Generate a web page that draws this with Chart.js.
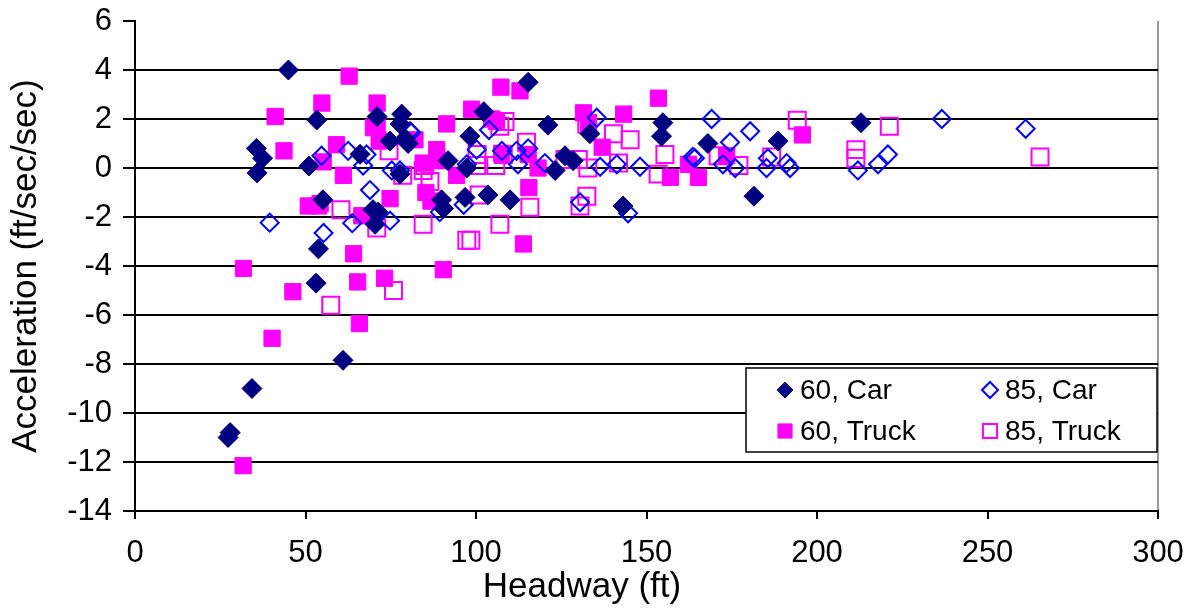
<!DOCTYPE html>
<html>
<head>
<meta charset="utf-8">
<script src="https://cdn.jsdelivr.net/npm/chart.js@4.4.0/dist/chart.umd.min.js"></script>
<style>
  html, body { margin: 0; padding: 0; background: #fff; }
  #wrap { width: 1196px; height: 609px; position: relative; }
</style>
</head>
<body>
<div id="wrap"><canvas id="chart"></canvas></div>
<script>
// headway (ft), acceleration (ft/sec/sec) pairs
const car60 = [
  [27.3,-11.0],[27.9,-10.8],[34.3,-9.0],[61,-7.85],[45,4.0],[35.6,0.8],[37.4,0.4],[35.8,-0.2],
  [53.3,1.96],[51,0.08],[53.8,-3.3],[53.1,-4.7],[55.1,-1.3],[66,0.56],[71,2.1],[70.4,-2.3],
  [69.8,-1.7],[71.3,-1.8],[78.2,2.2],[77.7,1.8],[80.1,1.0],[74.8,1.1],[77.7,-0.25],[91.8,0.3],
  [98.2,1.3],[102.3,2.3],[89.9,-1.3],[90.5,-1.65],[96.8,-1.2],[103.5,-1.1],[110,-1.3],[97.3,0.0],
  [115.3,3.5],[121.1,1.75],[133.4,1.4],[126.1,0.5],[123.2,-0.1],[143.1,-1.55],[154.8,1.85],
  [154.4,1.3],[128.5,0.3],[168,1.0],[188.6,1.1],[181.5,-1.15],[212.9,1.85],[79.2,1.2]
];
const car85 = [
  [39.5,-2.23],[54.7,0.5],[55.3,-2.65],[62.5,0.7],[66.9,0.1],[67.9,0.55],[68.9,-0.9],[63.7,-2.25],
  [77.7,-0.1],[80.6,1.5],[74.8,-2.15],[97.3,0.15],[96.4,-1.5],[89.4,-1.8],[103.8,1.55],[100.2,0.75],
  [111.9,0.7],[135.4,2.05],[115.3,0.8],[112.3,0.15],[120.2,0.2],[136.4,0.05],[141.3,0.15],[148.1,0.05],
  [130.5,-1.4],[144.6,-1.85],[163.6,0.45],[107.6,0.7],[169.1,2.0],[180.4,1.5],[174.5,1.05],[164.2,0.4],
  [172.4,0.15],[176,0.0],[185.2,0.0],[185.6,0.4],[191.1,0.2],[192.1,0.0],[212,-0.1],[217.9,0.15],
  [220.8,0.55],[236.6,2.0],[261.2,1.6],[81,1.45],[75.3,-0.1]
];
const truck60 = [
  [31.8,-4.1],[31.7,-12.15],[40.2,-6.95],[46.3,-5.05],[41.1,2.1],[43.7,0.7],[54.8,2.65],[55.2,0.25],
  [50.8,-1.55],[53.8,-1.55],[54.3,-1.45],[64.1,-3.5],[65.3,-4.65],[73.2,-4.5],[65.8,-6.35],[62.8,3.75],
  [59.1,0.95],[61.1,-0.3],[71,2.65],[69.9,1.65],[71,1.75],[66.5,-1.95],[71.6,1.1],[82.1,1.15],
  [74.8,-1.25],[91.4,1.8],[98.7,2.4],[104.6,2.0],[106,1.9],[107.3,3.3],[88.5,0.75],[89.2,0.3],
  [84.5,0.2],[94.3,-0.3],[85.3,-1.0],[86.8,-1.35],[90.4,-4.15],[107.5,0.6],[112.9,3.15],[153.5,2.85],
  [131.5,2.25],[143.3,2.2],[133,1.85],[115.3,0.55],[118.2,0.0],[115.5,-0.8],[113.9,-3.1],[137,0.85],
  [157,-0.38],[162.3,0.15],[165.2,-0.38],[173.5,0.5],[195.7,1.35]
];
const truck85 = [
  [57.4,-5.6],[75.8,-5.0],[60.4,-1.7],[74.5,0.7],[78.5,-0.3],[70.9,-2.45],[84.5,-2.3],[85,0.1],
  [84.5,-0.1],[86.5,-0.55],[100.3,0.55],[105.8,0.1],[100.2,0.1],[107,1.7],[100.9,-1.1],[107,-2.3],
  [97.3,-2.95],[98.5,-2.95],[114.8,1.05],[108.5,1.9],[115.8,-1.6],[126.1,0.35],[130,0.35],[132.8,0.0],
  [132.5,-1.15],[130.5,-1.55],[140.3,1.4],[145.2,1.15],[132.5,1.8],[141.8,0.2],[153.4,-0.25],
  [155.4,0.55],[171,0.5],[177.1,0.1],[186.7,0.45],[194.2,1.95],[221.2,1.7],[211.4,0.75],[211.4,0.4],
  [265.4,0.45],[108,0.55]
];
const seriesNames = ['60, Car', '85, Car', '60, Truck', '85, Truck'];

const FONT = 'Liberation Sans, Arial, sans-serif';
const toXY = list => list.map(p => ({x: p[0], y: p[1]}));

// legend box drawn inside the plot, lower right
const boxLegend = {
  id: 'boxLegend',
  afterDraw(chart) {
    const ctx = chart.ctx, a = chart.chartArea;
    const left = a.right - 412, top = a.top + 347, w = 411, h = 84;
    ctx.save();
    ctx.fillStyle = '#fff';
    ctx.fillRect(left, top, w, h);
    ctx.strokeStyle = '#000';
    ctx.lineWidth = 1.5;
    ctx.strokeRect(left, top, w, h);
    ctx.font = '28px ' + FONT;
    ctx.textBaseline = 'middle';
    chart.data.datasets.forEach((ds, i) => {
      const cx = left + 39 + (i % 2) * 205;
      const cy = top + 22 + Math.floor(i / 2) * 41;
      ctx.fillStyle = ds.backgroundColor;
      ctx.strokeStyle = ds.borderColor;
      ctx.lineWidth = ds.borderWidth;
      Chart.helpers.drawPoint(ctx, {
        pointStyle: ds.pointStyle, radius: ds.pointStyle === 'rectRot' ? 8 : 10,
        borderWidth: ds.borderWidth, rotation: 0
      }, cx, cy);
      ctx.fillStyle = '#000';
      ctx.fillText(ds.label, cx + 15, cy + 1);
    });
    // x axis title, sits left of the plot centre as in the original
    ctx.font = '35px ' + FONT;
    ctx.textAlign = 'center';
    ctx.fillText('Headway (ft)', 582, 587);
    ctx.restore();
  }
};

new Chart(document.getElementById('chart'), {
  type: 'scatter',
  data: {
    datasets: [
      {label: seriesNames[0], data: toXY(car60), pointStyle: 'rectRot', radius: 10,
       backgroundColor: '#000080', borderColor: '#000080', borderWidth: 1},
      {label: seriesNames[1], data: toXY(car85), pointStyle: 'rectRot', radius: 9,
       backgroundColor: 'rgba(0,0,0,0)', borderColor: '#0000ff', borderWidth: 2},
      {label: seriesNames[2], data: toXY(truck60), pointStyle: 'rect', radius: 11.5,
       backgroundColor: '#ff00ff', borderColor: '#ff00ff', borderWidth: 1},
      {label: seriesNames[3], data: toXY(truck85), pointStyle: 'rect', radius: 12,
       backgroundColor: 'rgba(0,0,0,0)', borderColor: '#ff00ff', borderWidth: 2}
    ]
  },
  options: {
    responsive: true,
    maintainAspectRatio: false,
    animation: false,
    events: [],
    layout: {padding: {left: 0, right: 38, top: 21, bottom: 0}},
    plugins: {legend: {display: false}, tooltip: {enabled: false}},
    scales: {
      x: {
        min: 0, max: 300,
        // fixed box so the plot area lands where the original has it
        afterFit: s => { s.height = 98; s.paddingLeft = 0; s.paddingRight = 0; },
        ticks: {stepSize: 50, color: '#000', padding: 16, font: {size: 31, family: FONT}},
        grid: {
          color: c => c.tick && c.tick.value === 300 ? '#999' : 'rgba(0,0,0,0)',
          tickColor: '#000', tickLength: 8, lineWidth: 2
        },
        border: {color: '#000', width: 2}
      },
      y: {
        min: -14, max: 6,
        afterFit: s => { s.width = 135; s.paddingTop = 0; s.paddingBottom = 0; },
        title: {display: true, text: 'Acceleration (ft/sec/sec)', color: '#000',
                font: {size: 35, family: FONT}, padding: {top: 5, bottom: 0}},
        ticks: {stepSize: 2, color: '#000', padding: 11, font: {size: 31, family: FONT}},
        grid: {
          color: c => c.tick && c.tick.value === 6 ? 'rgba(0,0,0,0)' : '#000',
          tickColor: '#000', tickLength: 12, lineWidth: 2
        },
        border: {color: '#000', width: 2}
      }
    }
  },
  plugins: [boxLegend]
});
</script>
</body>
</html>
